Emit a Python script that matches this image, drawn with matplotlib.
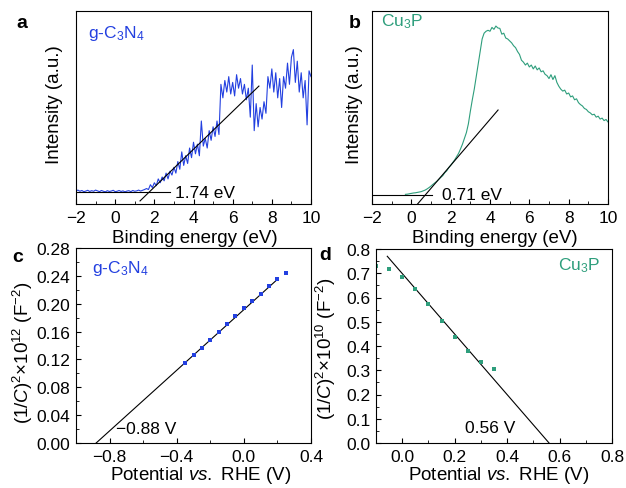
import numpy as np
import matplotlib
matplotlib.use("Agg")
import matplotlib.pyplot as plt
from matplotlib.ticker import MultipleLocator

plt.rcParams['font.family'] = ['Liberation Sans', 'DejaVu Sans']
plt.rcParams['mathtext.fontset'] = 'custom'
plt.rcParams['mathtext.rm'] = 'Liberation Sans'
plt.rcParams['mathtext.it'] = 'Liberation Sans:italic'
plt.rcParams['mathtext.bf'] = 'Liberation Sans:bold'

BLUE = '#2340e0'
TEAL = '#2e9e7c'

# ==== panel a: g-C3N4 valence band spectrum (intensity in axis fraction) ====
gcn_energy = np.round(np.arange(-2.0, 10.01, 0.1), 2)
gcn_intensity = [
    0.068, 0.072, 0.066, 0.070, 0.064, 0.067, 0.071, 0.065, 0.069, 0.066,
    0.072, 0.068, 0.064, 0.070, 0.066, 0.063, 0.069, 0.065, 0.067, 0.071,
    0.064, 0.066, 0.070, 0.065, 0.068, 0.063, 0.067, 0.069, 0.064, 0.070,
    0.066, 0.068, 0.072, 0.067, 0.071, 0.075,
    0.080, 0.075, 0.100, 0.085, 0.110, 0.095, 0.130, 0.110, 0.140, 0.120,
    0.160, 0.130, 0.170, 0.150, 0.190, 0.160, 0.220, 0.180, 0.270, 0.200,
    0.250, 0.210, 0.290, 0.240, 0.320, 0.260, 0.310, 0.250, 0.430, 0.300,
    0.340, 0.290, 0.380, 0.330, 0.400, 0.350, 0.430, 0.360,
    0.620, 0.550, 0.640, 0.580, 0.660, 0.570, 0.630, 0.560, 0.670, 0.600,
    0.650, 0.570, 0.620, 0.540, 0.600, 0.450, 0.720, 0.380, 0.520, 0.400,
    0.500, 0.440, 0.530, 0.470, 0.660, 0.600, 0.700, 0.580, 0.680, 0.550,
    0.650, 0.500, 0.660, 0.600, 0.730, 0.620, 0.760, 0.800, 0.630, 0.740,
    0.580, 0.680, 0.550, 0.640, 0.410, 0.690, 0.660,
]
gcn_base_x = [-2.0, 2.8]
gcn_base_y = [0.062, 0.062]
gcn_fit_x = [1.27, 7.34]
gcn_fit_y = [0.016, 0.611]

# ==== panel b: Cu3P valence band spectrum ====
cup_energy = np.round(np.arange(-0.3, 10.01, 0.1), 2)
cup_intensity = [
    0.050, 0.051, 0.053, 0.055, 0.057, 0.058, 0.060, 0.062, 0.064, 0.068,
    0.072, 0.078, 0.085, 0.093, 0.102, 0.110, 0.118, 0.128, 0.138, 0.147,
    0.162, 0.172, 0.188, 0.200, 0.214, 0.228, 0.245, 0.262, 0.285, 0.310,
    0.340, 0.370, 0.415, 0.480, 0.540, 0.595, 0.660, 0.725, 0.790, 0.855,
    0.885, 0.895, 0.900, 0.895, 0.915, 0.905, 0.922, 0.912, 0.910,
    0.880, 0.885, 0.860, 0.855, 0.845, 0.835, 0.820, 0.810, 0.790, 0.775,
    0.745, 0.735, 0.720, 0.730, 0.710, 0.720, 0.700, 0.715, 0.695, 0.705,
    0.685, 0.690, 0.672, 0.665, 0.650, 0.670, 0.645, 0.665, 0.630, 0.610,
    0.595, 0.585, 0.590, 0.570, 0.575, 0.555, 0.560, 0.540, 0.545, 0.525,
    0.515, 0.508, 0.495, 0.490, 0.478, 0.472, 0.462, 0.465, 0.450, 0.455,
    0.440, 0.445, 0.432, 0.438, 0.425,
]
cup_base_x = [-2.0, 1.05]
cup_base_y = [0.047, 0.047]
cup_fit_x = [0.30, 4.41]
cup_fit_y = [-0.002, 0.487]

# ==== panel c: Mott-Schottky g-C3N4 ====
ms_gcn_v = [-0.35, -0.30, -0.25, -0.20, -0.15, -0.10, -0.05, 0.00, 0.05, 0.10, 0.15, 0.20, 0.25]
ms_gcn_c = [0.1146, 0.1266, 0.1370, 0.1486, 0.1600, 0.1710, 0.1820, 0.1937, 0.2038, 0.2143, 0.2253, 0.2350, 0.2440]
ms_gcn_fit_x = [-0.88, 0.20]
ms_gcn_fit_y = [0.0, 0.235]

# ==== panel d: Mott-Schottky Cu3P ====
ms_cup_v = [-0.10, -0.05, 0.00, 0.05, 0.10, 0.15, 0.20, 0.25, 0.30, 0.35]
ms_cup_c = [0.728, 0.717, 0.686, 0.635, 0.572, 0.504, 0.438, 0.379, 0.335, 0.306]
ms_cup_fit_x = [-0.057, 0.56]
ms_cup_fit_y = [0.770, 0.0]

W, H = 626, 489
fig = plt.figure(figsize=(W / 100, H / 100), dpi=100)

def px_axes(left, top, right, bottom):
    return fig.add_axes([left / W, 1 - bottom / H, (right - left) / W, (bottom - top) / H])

ax_a = px_axes(76, 12, 311, 205)
ax_b = px_axes(372, 12, 608, 205)
ax_c = px_axes(76, 249, 311, 444)
ax_d = px_axes(376, 250, 612, 444)

TICK_FS = 12.5
LABEL_FS = 13.5

for ax in (ax_a, ax_b, ax_c, ax_d):
    for s in ax.spines.values():
        s.set_linewidth(0.8)
    ax.tick_params(which='both', direction='in', top=False, right=False, labelsize=TICK_FS)
    ax.tick_params(axis='x', pad=4)
    ax.tick_params(axis='y', pad=4)
    ax.tick_params(which='major', length=3.5, width=0.8)
    ax.tick_params(which='minor', length=2, width=0.6)

# ---- a ----
ax_a.plot(gcn_energy, gcn_intensity, color=BLUE, lw=0.8)
ax_a.plot(gcn_base_x, gcn_base_y, color='black', lw=0.8)
ax_a.plot(gcn_fit_x, gcn_fit_y, color='black', lw=0.8)
ax_a.set_xlim(-2, 10)
ax_a.set_ylim(0, 1)
ax_a.set_yticks([])
ax_a.set_xticks([-2, 0, 2, 4, 6, 8, 10])
ax_a.xaxis.set_minor_locator(MultipleLocator(1))
ax_a.text(3.05, 0.062, '1.74 eV', fontsize=TICK_FS, va='center', ha='left')
ax_a.text(0.05, 0.89, r'g-C$_3$N$_4$', color=BLUE, fontsize=TICK_FS, transform=ax_a.transAxes, va='center')
ax_a.set_xlabel('Binding energy (eV)', fontsize=LABEL_FS, va='center')
ax_a.xaxis.set_label_coords(0.506, -0.172)
ax_a.set_ylabel('Intensity (a.u.)', fontsize=LABEL_FS, va='center')
ax_a.yaxis.set_label_coords(-0.09, 0.52)

# ---- b ----
ax_b.plot(cup_energy, cup_intensity, color=TEAL, lw=0.8)
ax_b.plot(cup_base_x, cup_base_y, color='black', lw=0.8)
ax_b.plot(cup_fit_x, cup_fit_y, color='black', lw=0.8)
ax_b.set_xlim(-2, 10)
ax_b.set_ylim(0, 1)
ax_b.set_yticks([])
ax_b.set_xticks([-2, 0, 2, 4, 6, 8, 10])
ax_b.xaxis.set_minor_locator(MultipleLocator(1))
ax_b.text(1.56, 0.047, '0.71 eV', fontsize=TICK_FS, va='center', ha='left')
ax_b.text(0.04, 0.948, r'Cu$_3$P', color=TEAL, fontsize=TICK_FS, transform=ax_b.transAxes, va='center')
ax_b.set_xlabel('Binding energy (eV)', fontsize=LABEL_FS, va='center')
ax_b.xaxis.set_label_coords(0.52, -0.172)
ax_b.set_ylabel('Intensity (a.u.)', fontsize=LABEL_FS, va='center')
ax_b.yaxis.set_label_coords(-0.076, 0.52)

# ---- c ----
ax_c.plot(ms_gcn_fit_x, ms_gcn_fit_y, color='black', lw=0.8)
ax_c.plot(ms_gcn_v, ms_gcn_c, 's', color=BLUE, ms=3.2, mew=0)
ax_c.set_xlim(-1.0, 0.4)
ax_c.set_ylim(0, 0.28)
ax_c.set_xticks([-0.8, -0.4, 0.0, 0.4])
ax_c.set_xticklabels(['\u22120.8', '\u22120.4', '0.0', '0.4'])
ax_c.set_xticks([-1.0, -0.6, -0.2, 0.2], minor=True)
ax_c.set_yticks([0.0, 0.04, 0.08, 0.12, 0.16, 0.20, 0.24, 0.28])
ax_c.set_yticklabels(['0.00', '0.04', '0.08', '0.12', '0.16', '0.20', '0.24', '0.28'])
ax_c.yaxis.set_minor_locator(MultipleLocator(0.02))
ax_c.text(-0.76, 0.021, '\u22120.88 V', fontsize=TICK_FS, va='center', ha='left')
ax_c.text(0.068, 0.90, r'g-C$_3$N$_4$', color=BLUE, fontsize=TICK_FS, transform=ax_c.transAxes, va='center')
ax_c.set_xlabel(r'Potential $\mathit{vs.}$ RHE (V)', fontsize=LABEL_FS, va='center')
ax_c.xaxis.set_label_coords(0.53, -0.16)
ax_c.set_ylabel(r'(1/$\mathit{C}$)$^{2}$×10$^{12}$ (F$^{-2}$)', fontsize=LABEL_FS, va='center')
ax_c.yaxis.set_label_coords(-0.225, 0.47)

# ---- d ----
ax_d.plot(ms_cup_fit_x, ms_cup_fit_y, color='black', lw=0.8)
ax_d.plot(ms_cup_v, ms_cup_c, 's', color=TEAL, ms=3.2, mew=0, clip_on=True)
ax_d.set_xlim(-0.1, 0.8)
ax_d.set_ylim(0, 0.8)
ax_d.set_xticks([0.0, 0.2, 0.4, 0.6, 0.8])
ax_d.set_xticklabels(['0.0', '0.2', '0.4', '0.6', '0.8'])
ax_d.set_xticks([-0.1, 0.1, 0.3, 0.5, 0.7], minor=True)
ax_d.yaxis.set_major_locator(MultipleLocator(0.1))
ax_d.yaxis.set_minor_locator(MultipleLocator(0.05))
ax_d.yaxis.set_major_formatter(lambda v, p: f'{abs(v):.1f}')
ax_d.text(0.24, 0.062, '0.56 V', fontsize=TICK_FS, va='center', ha='left')
ax_d.text(0.95, 0.92, r'Cu$_3$P', color=TEAL, fontsize=TICK_FS, transform=ax_d.transAxes, va='center', ha='right')
ax_d.set_xlabel(r'Potential $\mathit{vs.}$ RHE (V)', fontsize=LABEL_FS, va='center')
ax_d.xaxis.set_label_coords(0.52, -0.16)
ax_d.set_ylabel(r'(1/$\mathit{C}$)$^{2}$×10$^{10}$ (F$^{-2}$)', fontsize=LABEL_FS, va='center')
ax_d.yaxis.set_label_coords(-0.21, 0.49)

# panel letters
for letter, (lx, ly) in zip('abcd', [(21.5, 24), (355, 23.5), (18, 257.5), (325.5, 256)]):
    fig.text(lx / W, 1 - ly / H, letter, fontsize=14, fontweight='bold', ha='center', va='center')

fig.savefig('out.png', dpi=100)
